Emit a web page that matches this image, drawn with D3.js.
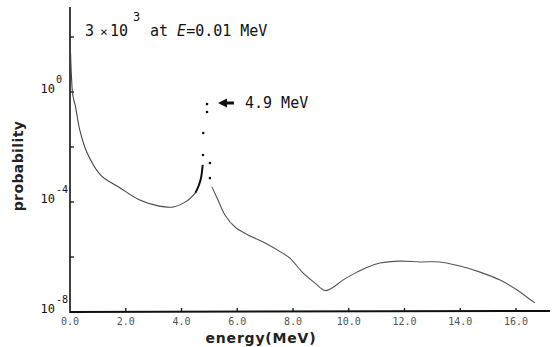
<!DOCTYPE html>
<html>
<head>
<meta charset="utf-8">
<script src="https://cdn.jsdelivr.net/npm/d3@7"></script>
<style>
  body { margin: 0; background: #fff; }
  svg { display: block; }
  .mono { font-family: "DejaVu Sans Mono", monospace; fill: #111; }
  .tick-lbl { font-family: "DejaVu Sans Mono", monospace; font-size: 10px; fill: #555; }
  .ttl { font-family: "DejaVu Sans", sans-serif; font-weight: bold; fill: #222; }
</style>
</head>
<body>
<svg id="viz"></svg>
<script>
let width = 554;
let height = 347;

// energy (MeV) and log10(probability)
let energyLeft = [0.02, 0.05, 0.1, 0.2, 0.35, 0.6, 1.1, 1.8, 2.5, 3.2, 3.7, 4.2, 4.5];
let logProbLeft = [1.42, 0.62, -0.11, -0.55, -1.38, -2.18, -3.02, -3.49, -3.93, -4.15, -4.18, -3.96, -3.67];
let energyRise = [4.5, 4.62, 4.7, 4.76];
let logProbRise = [-3.67, -3.4, -3.13, -2.65];
let energyPeakDots = [4.77, 4.78, 4.915, 4.915, 5.02, 5.02];
let logProbPeakDots = [-2.29, -1.49, -0.73, -0.44, -2.58, -3.13];
let energyRight = [5.09, 5.31, 5.56, 5.92, 6.39, 7.0, 7.61, 7.89, 8.36, 8.79, 9.15, 9.4, 9.79, 10.3, 10.69, 11.12, 11.84, 12.56, 13.27, 13.99, 14.71, 15.43, 16.04, 16.43, 16.68];
let logProbRight = [-3.45, -3.93, -4.47, -4.91, -5.2, -5.49, -5.85, -6.04, -6.58, -6.95, -7.22, -7.13, -6.84, -6.55, -6.36, -6.22, -6.15, -6.18, -6.18, -6.33, -6.55, -6.84, -7.2, -7.49, -7.67];

let xTicks = [0, 2, 4, 6, 8, 10, 12, 14, 16];
let xTickLabels = ["0.0", "2.0", "4.0", "6.0", "8.0", "10.0", "12.0", "14.0", "16.0"];
let yTicks = [1e2, 1e0, 1e-2, 1e-4, 1e-6];
let yLabelExps = ["0", "-4", "-8"];
let yLabelVals = [1e0, 1e-4, 1e-8];

let svg = d3.select("#viz")
    .attr("width", width)
    .attr("height", height);

let x = d3.scaleLinear().domain([0, 17.22]).range([70, 550]);
let y = d3.scaleLog().domain([1e-8, Math.pow(10, 3.2)]).range([312, 4]);

function pts(es, ls) {
    return es.map((e, i) => [e, Math.pow(10, ls[i])]);
}

let line = d3.line()
    .x(d => x(d[0]))
    .y(d => y(d[1]))
    .curve(d3.curveCatmullRom);

// axes
svg.append("line")
    .attr("x1", x(0)).attr("x2", x(0))
    .attr("y1", 7).attr("y2", y(1e-8) + 1)
    .attr("stroke", "#111").attr("stroke-width", 1.6);
svg.append("line")
    .attr("x1", x(0)).attr("x2", x(17.22))
    .attr("y1", y(1e-8)).attr("y2", y(1e-8) - 1)
    .attr("stroke", "#111").attr("stroke-width", 2);

svg.selectAll("line.xt").data(xTicks.slice(1))
    .enter().append("line")
    .attr("class", "xt")
    .attr("x1", d => x(d)).attr("x2", d => x(d))
    .attr("y1", y(1e-8)).attr("y2", y(1e-8) - 4)
    .attr("stroke", "#111").attr("stroke-width", 1.3);

svg.selectAll("text.xl").data(xTicks)
    .enter().append("text")
    .attr("class", "tick-lbl")
    .attr("x", d => x(d))
    .attr("y", 325)
    .attr("text-anchor", "middle")
    .text((d, i) => xTickLabels[i]);

svg.selectAll("line.yt").data(yTicks)
    .enter().append("line")
    .attr("class", "yt")
    .attr("x1", x(0)).attr("x2", x(0) + 4)
    .attr("y1", d => y(d)).attr("y2", d => y(d))
    .attr("stroke", "#111").attr("stroke-width", 1.3);

let yl = svg.selectAll("g.yl").data(yLabelVals)
    .enter().append("g")
    .attr("class", "yl")
    .attr("transform", d => "translate(0," + (y(d) + 1) + ")");
yl.append("text")
    .attr("class", "mono")
    .attr("x", 55).attr("y", 0)
    .attr("text-anchor", "end")
    .style("font-size", "12px")
    .text("10");
yl.append("text")
    .attr("class", "mono")
    .attr("x", 56).attr("y", -10)
    .style("font-size", "10px")
    .text((d, i) => yLabelExps[i]);

// curve
svg.append("path")
    .datum(pts(energyLeft, logProbLeft))
    .attr("d", line)
    .attr("fill", "none").attr("stroke", "#444").attr("stroke-width", 1.1);
svg.append("path")
    .datum(pts(energyRise, logProbRise))
    .attr("d", line)
    .attr("fill", "none").attr("stroke", "#111").attr("stroke-width", 2);
svg.append("path")
    .datum(pts(energyRight, logProbRight))
    .attr("d", line)
    .attr("fill", "none").attr("stroke", "#555").attr("stroke-width", 1.1);
svg.selectAll("circle.pk").data(pts(energyPeakDots, logProbPeakDots))
    .enter().append("circle")
    .attr("class", "pk")
    .attr("cx", d => x(d[0])).attr("cy", d => y(d[1]))
    .attr("r", 1.3).attr("fill", "#111");

// annotations
svg.append("text").attr("class", "mono").attr("x", 85).attr("y", 36)
    .style("font-size", "15px").text("3");
svg.append("text").attr("class", "mono").attr("x", 100).attr("y", 36)
    .style("font-size", "13px").text("×");
svg.append("text").attr("class", "mono").attr("x", 110).attr("y", 36)
    .style("font-size", "15px").text("10");
svg.append("text").attr("class", "mono").attr("x", 133).attr("y", 21)
    .style("font-size", "12px").text("3");
let ann = svg.append("text").attr("class", "mono").attr("x", 150).attr("y", 36)
    .style("font-size", "15px");
ann.append("tspan").text("at ");
ann.append("tspan").style("font-style", "italic").text("E");
ann.append("tspan").text("=0.01 MeV");

svg.append("path")
    .attr("d", "M218,103 L227,98.5 L227,101.5 L234,101.5 L234,104.5 L227,104.5 L227,107.5 Z")
    .attr("fill", "#111");
svg.append("text").attr("class", "mono").attr("x", 245).attr("y", 108)
    .style("font-size", "15px").text("4.9 MeV");

// titles
svg.append("text").attr("class", "ttl")
    .attr("transform", "translate(23,166) rotate(-90)")
    .attr("text-anchor", "middle")
    .style("font-size", "14px")
    .style("letter-spacing", "0.4px")
    .text("probability");
svg.append("text").attr("class", "ttl")
    .attr("x", 261).attr("y", 343)
    .attr("text-anchor", "middle")
    .style("font-size", "14px")
    .style("letter-spacing", "0.8px")
    .text("energy(MeV)");
</script>
</body>
</html>
